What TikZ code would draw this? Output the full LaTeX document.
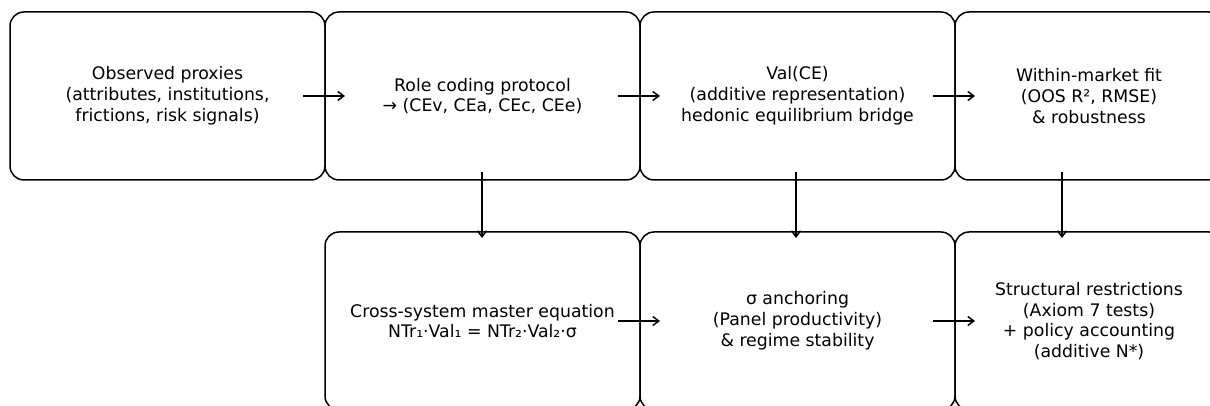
\documentclass[tikz,border=0pt]{standalone}
\usepackage{fontspec}
\setmainfont{DejaVu Sans}
\usetikzlibrary{arrows.meta, positioning}

\begin{document}
\begin{tikzpicture}[x=1pt, y=1pt, >={Straight Barb[length=6pt, width=9pt]}, line width=1.5pt,
  box/.style={draw, rounded corners=14pt, minimum width=315pt, minimum height=168pt,
    outer sep=0pt, align=center, font=\fontsize{17.3}{20.8}\selectfont},
  arr/.style={->, line width=1.5pt}]
  \useasboundingbox (0,0) rectangle (1210,406);
  % top row
  \node[box] (obs) at (167.5,310) {Observed proxies\\(attributes, institutions,\\frictions, risk signals)};
  \node[box, right=0pt of obs] (role) {Role coding protocol\\→ (CEv, CEa, CEc, CEe)};
  \node[box, right=0pt of role] (val) {Val(CE)\\(additive representation)\\hedonic equilibrium bridge};
  \node[box, right=0pt of val, minimum width=268pt] (fit) {Within-market fit\\(OOS R², RMSE)\\\& robustness};
  % bottom row
  \node[box, below=52pt of role, minimum height=178pt] (master) {Cross-system master equation\\NTr₁·Val₁ = NTr₂·Val₂·σ};
  \node[box, right=0pt of master, minimum height=178pt] (anchor) {σ anchoring\\(Panel productivity)\\\& regime stability};
  \node[box, right=0pt of anchor, minimum height=178pt, minimum width=268pt] (struct) {Structural restrictions\\(Axiom 7 tests)\\+ policy accounting\\(additive N*)};
  % arrows
  \draw[arr] ([xshift=-22pt]obs.east) -- ([xshift=20pt]role.west);
  \draw[arr] ([xshift=-22pt]role.east) -- ([xshift=20pt]val.west);
  \draw[arr] ([xshift=-22pt]val.east) -- ([xshift=20pt]fit.west);
  \draw[arr] ([shift={(-0.5pt,8pt)}]role.south) -- ([shift={(-0.5pt,-6pt)}]master.north);
  \draw[arr] ([shift={(-1.5pt,8pt)}]val.south) -- ([shift={(-1.5pt,-6pt)}]anchor.north);
  \draw[arr] ([shift={(-27pt,8pt)}]fit.south) -- ([shift={(-27pt,-6pt)}]struct.north);
  \draw[arr] ([xshift=-22pt]master.east) -- ([xshift=20pt]anchor.west);
  \draw[arr] ([xshift=-22pt]anchor.east) -- ([xshift=20pt]struct.west);
\end{tikzpicture}
\end{document}
